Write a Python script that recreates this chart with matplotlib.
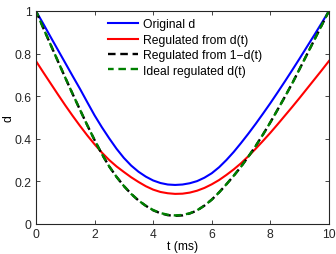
import numpy as np
import matplotlib
matplotlib.use("Agg")
import matplotlib.pyplot as plt

plt.rcParams['font.family'] = ['Liberation Sans', 'DejaVu Sans']

# =========================
# DATA
# =========================
t = [0.0, 0.25, 0.5, 0.75, 1.0, 1.25, 1.5, 1.75, 2.0, 2.25,
     2.5, 2.75, 3.0, 3.25, 3.5, 3.75, 4.0, 4.25, 4.5, 4.75,
     5.0, 5.25, 5.5, 5.75, 6.0, 6.25, 6.5, 6.75, 7.0, 7.25,
     7.5, 7.75, 8.0, 8.25, 8.5, 8.75, 9.0, 9.25, 9.5, 9.75, 10.0]

original_d = [1.0, 0.94, 0.878, 0.817, 0.756, 0.695, 0.635, 0.572, 0.51, 0.454,
              0.402, 0.353, 0.31, 0.274, 0.245, 0.222, 0.204, 0.192, 0.185, 0.183,
              0.185, 0.191, 0.201, 0.217, 0.238, 0.266, 0.30, 0.338, 0.38, 0.424,
              0.47, 0.518, 0.567, 0.618, 0.67, 0.723, 0.777, 0.832, 0.887, 0.943, 1.0]

reg_from_d = [0.765, 0.712, 0.66, 0.608, 0.557, 0.508, 0.461, 0.416, 0.374, 0.335,
              0.30, 0.27, 0.244, 0.219, 0.197, 0.177, 0.161, 0.15, 0.144, 0.141,
              0.142, 0.147, 0.156, 0.169, 0.186, 0.206, 0.23, 0.256, 0.285, 0.318,
              0.353, 0.39, 0.428, 0.468, 0.509, 0.55, 0.592, 0.635, 0.678, 0.721, 0.765]

reg_from_1md = [1.0, 0.92, 0.842, 0.764, 0.687, 0.611, 0.537, 0.464, 0.394, 0.328,
                0.27, 0.221, 0.178, 0.141, 0.11, 0.085, 0.064, 0.05, 0.041, 0.038,
                0.04, 0.049, 0.063, 0.086, 0.114, 0.148, 0.186, 0.226, 0.269, 0.316,
                0.366, 0.42, 0.477, 0.537, 0.598, 0.661, 0.728, 0.796, 0.864, 0.932, 1.0]

ideal_reg = [1.0, 0.92, 0.842, 0.764, 0.687, 0.611, 0.537, 0.464, 0.394, 0.328,
             0.27, 0.221, 0.178, 0.141, 0.11, 0.085, 0.065, 0.051, 0.043, 0.04,
             0.042, 0.05, 0.064, 0.086, 0.114, 0.148, 0.186, 0.226, 0.269, 0.316,
             0.366, 0.42, 0.477, 0.537, 0.598, 0.661, 0.728, 0.796, 0.864, 0.932, 1.0]

labels = ["Original d", "Regulated from d(t)", "Regulated from 1\u2212d(t)",
          "Ideal regulated d(t)"]

# =========================
# PLOT
# =========================
fs = 8.7
fig = plt.figure(figsize=(3.36, 2.55), dpi=100)
ax = fig.add_axes([0.107, 0.118, 0.872, 0.835])

ax.plot(t, original_d, color="#0000ff", lw=1.5, label=labels[0])
ax.plot(t, reg_from_d, color="#ff0000", lw=1.5, label=labels[1])
ax.plot(t, reg_from_1md, color="k", lw=1.7, ls=(0, (3.2, 2.0)), label=labels[2])
ax.plot(t, ideal_reg, color="#008000", lw=1.7, ls=(0.8, (3.2, 2.0)), label=labels[3])

ax.set_xlim(0, 10)
ax.set_ylim(0, 1)
ax.set_xticks([0, 2, 4, 6, 8, 10])
ax.set_yticks([0, 0.2, 0.4, 0.6, 0.8, 1])
ax.set_xticklabels(["0", "2", "4", "6", "8", "10"])
ax.set_yticklabels(["0", "0.2", "0.4", "0.6", "0.8", "1"])
ax.tick_params(direction="in", top=True, right=True, labelsize=fs,
               length=3, width=0.6, colors="#262626", pad=3)
for s in ax.spines.values():
    s.set_linewidth(0.8)
    s.set_color("#262626")

ax.set_xlabel("t (ms)", fontsize=fs, labelpad=0)
ax.set_ylabel("d", fontsize=fs, va="center")
ax.yaxis.set_label_coords(-0.092, 0.5)

ax.legend(loc="upper left", frameon=False, fontsize=fs, handlelength=2.5,
          handletextpad=0.4, labelspacing=0.28, borderaxespad=0.0,
          borderpad=0.0, bbox_to_anchor=(0.245, 0.965))

fig.savefig("out.png", dpi=100)
